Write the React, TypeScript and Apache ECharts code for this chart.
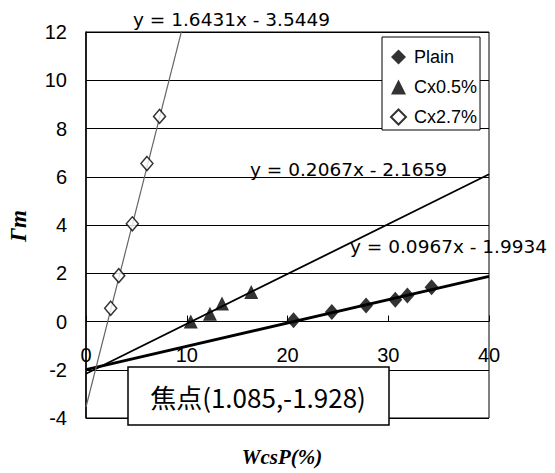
import React, { useEffect, useRef } from "react";
import * as echarts from "echarts";

// Measured points (WcsP %, Γm)
const plainX = [20.6, 24.4, 27.8, 30.7, 31.9, 34.3];
const plainY = [0.05, 0.39, 0.66, 0.9, 1.08, 1.42];
const cx05X = [10.4, 12.3, 13.5, 16.4];
const cx05Y = [0.0, 0.32, 0.75, 1.22];
const cx27X = [2.45, 3.25, 4.6, 6.05, 7.3];
const cx27Y = [0.55, 1.9, 4.05, 6.55, 8.5];

// Linear fits: slope and intercept for Plain, Cx0.5%, Cx2.7%
const seriesNames = ["Plain", "Cx0.5%", "Cx2.7%"];
const slopes = [0.0967, 0.2067, 1.6431];
const intercepts = [-1.9934, -2.1659, -3.5449];

// Common point of the three fitted lines
const focus = [1.085, -1.928];

// Axis ranges
const xRange = [0, 40, 10];
const yRange = [-4, 12, 2];

const GRID_TOP = 32;
const GRID_BOTTOM = 55;
const CHART_H = 473;

const zip = (xs: number[], ys: number[]) => xs.map((x, i) => [x, ys[i]]);
const fitLine = (k: number) => [
  [xRange[0], slopes[k] * xRange[0] + intercepts[k]],
  [xRange[1], slopes[k] * xRange[1] + intercepts[k]],
];
const eqText = (k: number) =>
  `y = ${slopes[k].toFixed(4)}x - ${Math.abs(intercepts[k]).toFixed(4)}`;

export default function App() {
  const ref = useRef<HTMLDivElement>(null);

  useEffect(() => {
    if (!ref.current) return;
    const chart = echarts.init(ref.current, undefined, { renderer: "svg" });
    const sans = "Liberation Sans, Arial, sans-serif";
    const eqFont = "DejaVu Sans, sans-serif";
    const serif = "Liberation Serif, Times New Roman, serif";

    // lift the category axis from the bottom edge up to Γm = 0
    const plotH = CHART_H - GRID_TOP - GRID_BOTTOM;
    const zeroLift = (plotH * (0 - yRange[0])) / (yRange[1] - yRange[0]);

    chart.setOption({
      animation: false,
      backgroundColor: "#fff",
      grid: {
        left: 86,
        right: 66,
        top: GRID_TOP,
        bottom: GRID_BOTTOM,
        show: true,
        borderColor: "#000",
        borderWidth: 1,
        backgroundColor: "transparent",
      },
      xAxis: {
        type: "value",
        min: xRange[0],
        max: xRange[1],
        interval: xRange[2],
        offset: -zeroLift,
        axisLine: { show: true, onZero: false, lineStyle: { color: "#000", width: 1 } },
        axisTick: { show: true, inside: true, length: 6, lineStyle: { color: "#000" } },
        axisLabel: { margin: 23, fontSize: 20, color: "#000", fontFamily: sans },
        splitLine: { show: false },
      },
      yAxis: {
        type: "value",
        min: yRange[0],
        max: yRange[1],
        interval: yRange[2],
        axisLine: { show: true, lineStyle: { color: "#000", width: 1.5 } },
        axisTick: { show: false },
        axisLabel: { margin: 19, fontSize: 20, color: "#000", fontFamily: sans },
        splitLine: { show: true, lineStyle: { color: "#000", width: 1 } },
      },
      legend: {
        data: seriesNames,
        orient: "vertical",
        left: 382,
        top: 37,
        backgroundColor: "#fff",
        borderColor: "#000",
        borderWidth: 1,
        padding: [11, 3, 4, 8],
        itemGap: 12,
        itemWidth: 15,
        itemHeight: 15,
        textStyle: { fontFamily: sans, fontSize: 18, color: "#000", padding: [0, 0, 0, 3] },
      },
      series: [
        {
          type: "line",
          data: fitLine(0),
          symbol: "none",
          silent: true,
          lineStyle: { color: "#000", width: 2.8 },
          z: 2,
        },
        {
          type: "line",
          data: fitLine(1),
          symbol: "none",
          silent: true,
          lineStyle: { color: "#000", width: 1.8 },
          z: 2,
        },
        {
          type: "line",
          data: fitLine(2),
          symbol: "none",
          silent: true,
          lineStyle: { color: "#666", width: 1.2 },
          z: 2,
        },
        {
          name: seriesNames[0],
          type: "scatter",
          data: zip(plainX, plainY),
          symbol: "diamond",
          symbolSize: [14, 16],
          itemStyle: { color: "#000" },
          z: 5,
        },
        {
          name: seriesNames[1],
          type: "scatter",
          data: zip(cx05X, cx05Y),
          symbol: "triangle",
          symbolSize: [14, 14],
          itemStyle: { color: "#000" },
          z: 5,
        },
        {
          name: seriesNames[2],
          type: "scatter",
          data: zip(cx27X, cx27Y),
          symbol: "diamond",
          symbolSize: [12, 14],
          itemStyle: { color: "#fff", borderColor: "#000", borderWidth: 1.5 },
          z: 5,
        },
      ],
      graphic: [
        {
          type: "text",
          left: 133,
          top: 10,
          z: 10,
          style: { text: eqText(2), font: `18.5px ${eqFont}`, fill: "#000" },
        },
        {
          type: "text",
          left: 250,
          top: 160,
          z: 10,
          style: { text: eqText(1), font: `18.5px ${eqFont}`, fill: "#000" },
        },
        {
          type: "text",
          left: 350,
          top: 237,
          z: 10,
          style: { text: eqText(0), font: `18.5px ${eqFont}`, fill: "#000" },
        },
        {
          type: "rect",
          z: 10,
          shape: { x: 128, y: 367, width: 261, height: 58 },
          style: { fill: "#fff", stroke: "#000", lineWidth: 1.5 },
        },
        {
          type: "text",
          x: 258,
          y: 396,
          z: 11,
          style: {
            text: `焦点(${focus[0]},${focus[1]})`,
            font: `26px "Noto Sans CJK JP", sans-serif`,
            fill: "#000",
            align: "center",
            verticalAlign: "middle",
          },
        },
        {
          type: "text",
          x: 282,
          y: 457,
          z: 10,
          style: {
            text: "WcsP(%)",
            font: `italic bold 21px ${serif}`,
            fill: "#000",
            align: "center",
            verticalAlign: "middle",
          },
        },
        {
          type: "text",
          x: 18,
          y: 226,
          rotation: Math.PI / 2,
          z: 10,
          style: {
            text: "Γm",
            font: `italic bold 23px ${serif}`,
            fill: "#000",
            align: "center",
            verticalAlign: "middle",
          },
        },
      ],
    });

    return () => chart.dispose();
  }, []);

  return (
    <div
      ref={ref}
      style={{ position: "fixed", left: 0, top: 0, width: 555, height: 473 }}
    />
  );
}
